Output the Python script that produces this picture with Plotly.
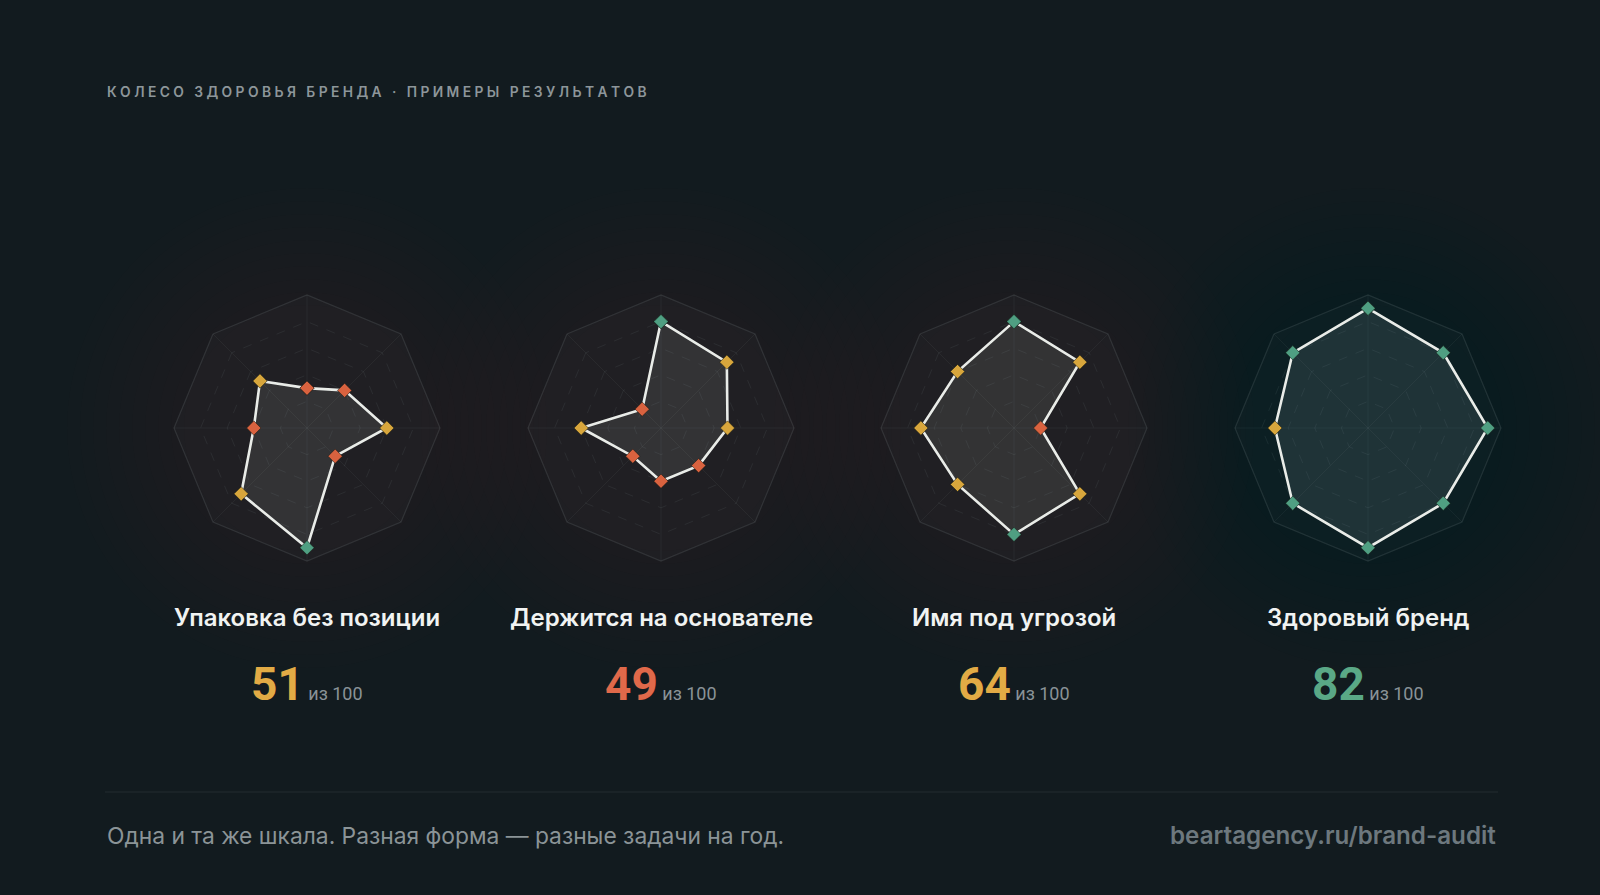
import plotly.graph_objects as go

# ---------------- data ----------------
axes = ["Позиционирование", "Аудитория", "Имя", "Визуал", "Голос", "Продукт", "Команда", "Основатель"]
titles = ["Упаковка без позиции", "Держится на основателе", "Имя под угрозой", "Здоровый бренд"]
values_1 = [30, 40, 60, 30, 90, 70, 40, 50]
values_2 = [80, 70, 50, 40, 40, 30, 60, 20]
values_3 = [80, 70, 20, 70, 80, 60, 70, 60]
values_4 = [90, 80, 90, 80, 90, 80, 70, 80]
series = [values_1, values_2, values_3, values_4]
scores = [51, 49, 64, 82]
header = "КОЛЕСО ЗДОРОВЬЯ БРЕНДА · ПРИМЕРЫ РЕЗУЛЬТАТОВ"
footer_left = "Одна и та же шкала. Разная форма — разные задачи на год."
footer_right = "beartagency.ru/brand-audit"
ring_ticks = [20, 40, 60, 80, 100]

# ---------------- style ----------------
W, H = 1600, 895
BG = "#121b1f"
RED, YEL, GRN = "#d9623f", "#d8a63c", "#4f9f82"
SCORE_RED, SCORE_YEL, SCORE_GRN = "#e0694a", "#e2ab45", "#5aa886"
centers_x = [307, 661, 1014, 1368]
center_y = 428
R = 133
fills = ["rgba(190,200,190,0.12)", "rgba(190,200,190,0.12)",
         "rgba(190,200,180,0.12)", "rgba(160,185,190,0.13)"]
glows = ["rgba(130,112,65,0.012)", "rgba(130,112,65,0.010)",
         "rgba(130,112,65,0.012)", "rgba(40,105,125,0.012)"]


def pt_color(v):
    if v >= 80:
        return GRN
    if v >= 50:
        return YEL
    return RED


def score_color(s):
    if s >= 80:
        return SCORE_GRN
    if s >= 50:
        return SCORE_YEL
    return SCORE_RED


fig = go.Figure()
layout_polars = {}
annotations = []
shapes = []

for i, vals in enumerate(series):
    pid = "polar" if i == 0 else f"polar{i+1}"
    sub = "polar" if i == 0 else f"polar{i+1}"
    cx = centers_x[i]
    # soft glow behind each wheel
    for rad in range(240, 110, -13):
        shapes.append(dict(type="circle", xref="paper", yref="paper",
                           x0=(cx - rad) / W, x1=(cx + rad) / W,
                           y0=1 - (center_y + rad) / H, y1=1 - (center_y - rad) / H,
                           fillcolor=glows[i], line=dict(width=0), layer="below"))
    r = vals + [vals[0]]
    th = axes + [axes[0]]
    fig.add_trace(go.Scatterpolar(
        r=r, theta=th, subplot=sub, mode="lines+markers", fill="toself",
        fillcolor=fills[i],
        line=dict(color="#e9ece8", width=2.6),
        marker=dict(symbol="diamond", size=11,
                    color=[pt_color(v) for v in r],
                    line=dict(color="rgba(20,25,20,0.55)", width=1)),
        hoverinfo="skip", showlegend=False))
    # center dot
    fig.add_trace(go.Scatterpolar(
        r=[0], theta=[axes[0]], subplot=sub, mode="markers",
        marker=dict(size=5, color="rgba(150,160,165,0.55)"),
        hoverinfo="skip", showlegend=False))

    layout_polars[pid] = dict(
        domain=dict(x=[(cx - R) / W, (cx + R) / W],
                    y=[1 - (center_y + R) / H, 1 - (center_y - R) / H]),
        bgcolor="rgba(255,255,255,0.018)",
        gridshape="linear",
        radialaxis=dict(range=[0, 100], tickvals=ring_ticks, showticklabels=False,
                        ticks="", showline=False,
                        gridcolor="rgba(190,210,210,0.075)", griddash="dash", gridwidth=1),
        angularaxis=dict(categoryarray=axes, categoryorder="array",
                         rotation=90, direction="clockwise",
                         showticklabels=False, ticks="",
                         gridcolor="rgba(190,210,210,0.06)", gridwidth=1,
                         linecolor="rgba(190,210,210,0.13)", linewidth=1.2),
    )

    annotations.append(dict(
        x=cx / W, y=1 - 617 / H, xref="paper", yref="paper",
        text=titles[i], showarrow=False, xanchor="center", yanchor="middle",
        font=dict(family="Inter, Roboto, sans-serif", size=24, color="#f1f3f2", weight=600)))
    annotations.append(dict(
        x=cx / W, y=1 - 684 / H, xref="paper", yref="paper",
        text=(f"<span style='font-size:46px;font-weight:bold;color:{score_color(scores[i])}'>{scores[i]}</span>"
              f"<span style='font-size:18px;color:#8a9397'> из 100</span>"),
        showarrow=False, xanchor="center", yanchor="middle",
        font=dict(family="Roboto, sans-serif", size=18, color="#8a9397")))

spaced_header = "\u2009\u200a".join(list(header))
annotations.append(dict(
    x=105 / W, y=1 - 92 / H, xref="paper", yref="paper", text=spaced_header,
    showarrow=False, xanchor="left", yanchor="middle",
    font=dict(family="Inter, Roboto, sans-serif", size=13.8, color="#8d969a", weight=600)))
annotations.append(dict(
    x=105 / W, y=1 - 835 / H, xref="paper", yref="paper", text=footer_left,
    showarrow=False, xanchor="left", yanchor="middle",
    font=dict(family="Inter, Roboto, sans-serif", size=22.8, color="#8b9497")))
annotations.append(dict(
    x=1498 / W, y=1 - 835 / H, xref="paper", yref="paper", text=footer_right,
    showarrow=False, xanchor="right", yanchor="middle",
    font=dict(family="Inter, Roboto, sans-serif", size=24.2, color="#6d787e", weight=600)))

shapes.append(dict(type="line", xref="paper", yref="paper",
                   x0=105 / W, x1=1498 / W, y0=1 - 792 / H, y1=1 - 792 / H,
                   line=dict(color="#222c30", width=1)))

fig.update_layout(
    width=W, height=H, margin=dict(l=0, r=0, t=0, b=0),
    paper_bgcolor=BG, plot_bgcolor=BG,
    annotations=annotations, shapes=shapes, showlegend=False,
    **layout_polars,
)

fig.write_html("out.html", config={"displayModeBar": False},
               post_script="document.body.style.margin='0';document.body.style.background='" + BG + "';")
